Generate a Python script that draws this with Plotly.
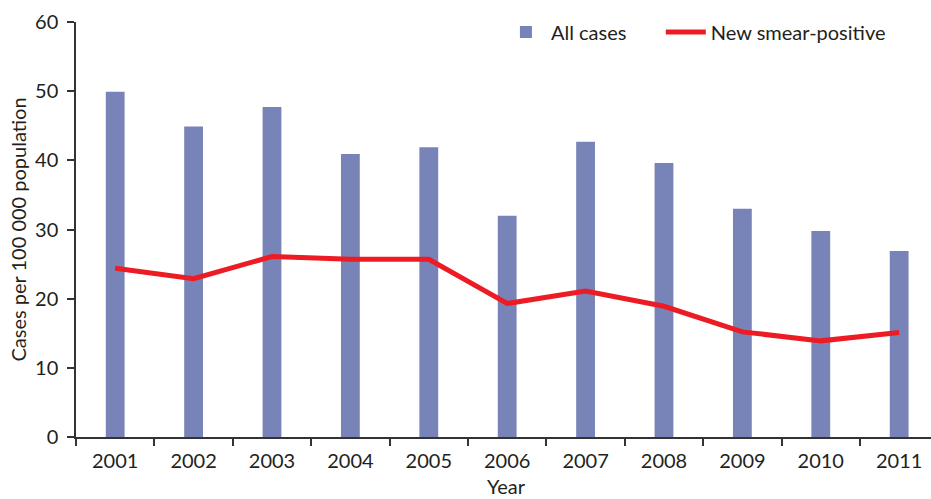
import plotly.graph_objects as go

years = ["2001", "2002", "2003", "2004", "2005", "2006", "2007", "2008", "2009", "2010", "2011"]
all_cases = [49.9, 44.9, 47.7, 40.9, 41.9, 32.0, 42.7, 39.6, 33.0, 29.8, 26.9]
new_smear_pos = [24.4, 22.9, 26.1, 25.7, 25.7, 19.3, 21.1, 18.9, 15.2, 13.9, 15.1]

FONT = "Lato"
AXIS_COLOR = "#333333"
TEXT_COLOR = "#231f20"
FS = 20

fig = go.Figure()
fig.add_trace(go.Bar(
    x=years, y=all_cases, name="All cases",
    marker=dict(color="#7884b8", line=dict(width=0)),
    width=0.24, legend="legend",
))
fig.add_trace(go.Scatter(
    x=years, y=new_smear_pos, name="New smear-positive",
    mode="lines", line=dict(color="#ed1c24", width=5), legend="legend2",
))

leg_common = dict(
    orientation="h", xanchor="left", y=0.976, yanchor="middle",
    font=dict(size=FS, color=TEXT_COLOR), bgcolor="rgba(0,0,0,0)",
    itemwidth=40,
)

fig.update_layout(
    width=931, height=499,
    margin=dict(l=76, r=0, t=22, b=62, autoexpand=False),
    paper_bgcolor="white", plot_bgcolor="white",
    font=dict(family=FONT, size=FS, color=TEXT_COLOR),
    showlegend=True,
    legend=dict(x=0.497, **leg_common),
    legend2=dict(x=0.684, **leg_common),
    xaxis=dict(
        type="category", range=[-0.5, 10.406],
        showline=True, linecolor=AXIS_COLOR, linewidth=1.5,
        ticks="outside", tickson="boundaries", ticklen=7, tickcolor=AXIS_COLOR, tickwidth=1.5,
        ticklabelstandoff=5,
        showgrid=False, zeroline=False,
        tickfont=dict(size=FS, color=TEXT_COLOR),
    ),
    yaxis=dict(
        range=[0, 60], tickvals=[0, 10, 20, 30, 40, 50, 60],
        showline=True, linecolor=AXIS_COLOR, linewidth=1.5,
        ticks="outside", ticklen=7, tickcolor=AXIS_COLOR, tickwidth=1.5,
        ticklabelstandoff=5,
        showgrid=False, zeroline=False,
        tickfont=dict(size=FS, color=TEXT_COLOR),
        title=dict(text="Cases per 100 000 population", font=dict(size=FS, color=TEXT_COLOR), standoff=3),
    ),
    annotations=[dict(
        text="Year", xref="paper", yref="paper", x=0.504, y=0, yshift=-49,
        xanchor="center", yanchor="middle", showarrow=False,
        font=dict(size=FS, color=TEXT_COLOR),
    )],
)

fig.write_html(
    "out.html",
    config={"displayModeBar": False},
    post_script="document.body.style.margin='0';document.body.style.overflow='hidden';",
)
